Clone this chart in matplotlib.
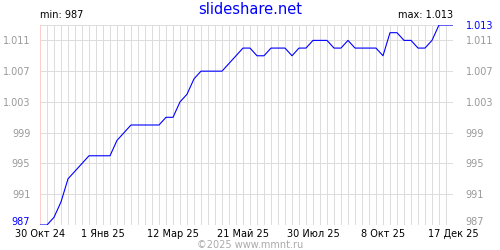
import matplotlib
matplotlib.use("Agg")
import matplotlib.pyplot as plt
import numpy as np

# === Données (valeurs hebdomadaires, 30 Окт 24 -> 17 Дек 25) ===
valeurs = [987, 987, 988, 990, 993, 994, 995, 996, 996, 996,
           996, 998, 999, 1000, 1000, 1000, 1000, 1000, 1001, 1001,
           1003, 1004, 1006, 1007, 1007, 1007, 1007, 1008, 1009, 1010,
           1010, 1009, 1009, 1010, 1010, 1010, 1009, 1010, 1010, 1011,
           1011, 1011, 1010, 1010, 1011, 1010, 1010, 1010, 1010, 1009,
           1012, 1012, 1011, 1011, 1010, 1010, 1011, 1013, 1013, 1013]
semaines_labels = [0, 9, 19, 29, 39, 49, 59]
dates_labels = ["30 Окт 24", "1 Янв 25", "12 Мар 25", "21 Май 25",
                "30 Июл 25", "8 Окт 25", "17 Дек 25"]
ticks_y = [987, 991, 995, 999, 1003, 1007, 1011]

v_min = min(valeurs)
v_max = max(valeurs)

def fmt(v):
    return f"{v:,}".replace(",", ".")

x = np.arange(len(valeurs))
taille = 7
px = 0.72  # 1 pixel à 100 dpi

fig = plt.figure(figsize=(5, 2.5), dpi=100)
ax = fig.add_axes([0.08, 0.1, 0.826, 0.8])

# grille
for k in x:
    couleur = '#ffcccc' if k in semaines_labels else '#dddddd'
    ax.axvline(k, color=couleur, linewidth=px, zorder=1, antialiased=False)
for t in ticks_y + [v_max]:
    ax.axhline(t, color='#dddddd', linewidth=px, zorder=0, antialiased=False)

ax.plot(x, valeurs, color='#0000ff', linewidth=0.8, zorder=3)

ax.set_xlim(0, len(valeurs) - 1)
ax.set_ylim(v_min, v_max)
for s in ax.spines.values():
    s.set_visible(False)

ax.set_xticks(semaines_labels)
ax.set_xticklabels(dates_labels)
ax.set_yticks(ticks_y)
ax.set_yticklabels([fmt(t) for t in ticks_y])
ax.tick_params(axis='both', length=0, labelsize=taille)
ax.tick_params(axis='x', pad=3, labelcolor='black')
ax.tick_params(axis='y', pad=7, labelcolor='#999999')
ax.get_yticklabels()[0].set_color('#0000ff')

ax2 = ax.twinx()
ax2.set_ylim(v_min, v_max)
ax2.set_yticks(ticks_y + [v_max])
ax2.set_yticklabels([fmt(t) for t in ticks_y + [v_max]])
ax2.tick_params(axis='y', length=0, labelsize=taille, pad=9, labelcolor='#999999')
ax2.get_yticklabels()[-1].set_color('#0000ff')
for s in ax2.spines.values():
    s.set_visible(False)

# étiquettes du bas posées sur la ligne pour ne pas toucher les dates
for lab in [ax.get_yticklabels()[0], ax2.get_yticklabels()[0]]:
    lab.set_verticalalignment('baseline')

ax.text(0, 1.025, f"min: {fmt(v_min)}", transform=ax.transAxes,
        fontsize=taille, ha='left', va='bottom')
ax.text(1, 1.025, f"max: {fmt(v_max)}", transform=ax.transAxes,
        fontsize=taille, ha='right', va='bottom')
fig.text(0.5, 0.96, "slideshare.net", color='#0000ff', fontsize=10.5,
         ha='center', va='center')
fig.text(0.5, 0.02, "©2025 www.mmnt.ru", color='#aaaaaa', fontsize=taille,
         ha='center', va='center')

plt.savefig("out.png", dpi=100)
plt.close()
